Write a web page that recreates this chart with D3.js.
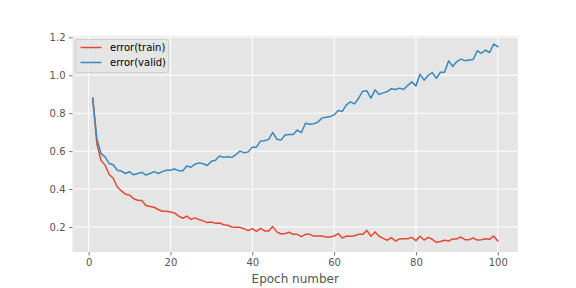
<!DOCTYPE html>
<html>
<head>
<meta charset="utf-8">
<script src="https://cdn.jsdelivr.net/npm/d3@7"></script>
<style>
  html, body { margin: 0; padding: 0; background: #ffffff; }
  svg { display: block; font-family: "DejaVu Sans", sans-serif; }
</style>
</head>
<body>
<svg id="chart" width="576" height="288"></svg>
<script>
const epochs = d3.range(1, 101);
const trainError = [
  0.878, 0.640, 0.552, 0.526, 0.478, 0.457, 0.411, 0.390, 0.373, 0.368,
  0.349, 0.341, 0.340, 0.313, 0.308, 0.304, 0.292, 0.283, 0.283, 0.279,
  0.274, 0.257, 0.246, 0.257, 0.240, 0.248, 0.239, 0.232, 0.223, 0.226,
  0.219, 0.221, 0.212, 0.209, 0.200, 0.198, 0.198, 0.191, 0.181, 0.191,
  0.177, 0.193, 0.179, 0.179, 0.202, 0.174, 0.163, 0.165, 0.172, 0.161,
  0.161, 0.149, 0.161, 0.161, 0.152, 0.152, 0.152, 0.147, 0.147, 0.152,
  0.165, 0.142, 0.152, 0.151, 0.154, 0.161, 0.161, 0.182, 0.151, 0.174,
  0.151, 0.140, 0.130, 0.144, 0.126, 0.137, 0.138, 0.138, 0.145, 0.128,
  0.151, 0.131, 0.145, 0.135, 0.119, 0.123, 0.130, 0.126, 0.137, 0.137,
  0.147, 0.133, 0.133, 0.142, 0.131, 0.133, 0.138, 0.135, 0.152, 0.126
];
const validError = [
  0.878, 0.667, 0.588, 0.570, 0.535, 0.528, 0.499, 0.495, 0.482, 0.491,
  0.475, 0.482, 0.488, 0.474, 0.482, 0.492, 0.482, 0.492, 0.499, 0.499,
  0.506, 0.497, 0.497, 0.522, 0.515, 0.531, 0.538, 0.533, 0.524, 0.547,
  0.552, 0.574, 0.567, 0.570, 0.567, 0.582, 0.600, 0.591, 0.596, 0.621,
  0.621, 0.653, 0.655, 0.662, 0.699, 0.663, 0.658, 0.685, 0.688, 0.688,
  0.711, 0.698, 0.747, 0.742, 0.744, 0.752, 0.774, 0.779, 0.782, 0.791,
  0.814, 0.809, 0.844, 0.860, 0.849, 0.879, 0.916, 0.918, 0.879, 0.923,
  0.899, 0.907, 0.914, 0.929, 0.925, 0.932, 0.925, 0.947, 0.965, 0.944,
  1.005, 0.974, 1.000, 1.014, 0.984, 1.016, 1.016, 1.076, 1.046, 1.072,
  1.085, 1.077, 1.081, 1.083, 1.129, 1.116, 1.132, 1.120, 1.164, 1.151
];
const seriesNames = ["error(train)", "error(valid)"];
const seriesColors = ["#E24A33", "#348ABD"];
const xTicks = [0, 20, 40, 60, 80, 100];
const yTicks = [0.2, 0.4, 0.6, 0.8, 1.0, 1.2];
const xLabel = "Epoch number";

const plot = { left: 72.5, right: 518, top: 36, bottom: 252 };
const svg = d3.select("#chart");

const x = d3.scaleLinear().domain([-3.95, 104.95]).range([plot.left, plot.right]);
const y = d3.scaleLinear().domain([0.068, 1.207]).range([plot.bottom, plot.top]);

// background
svg.append("rect")
  .attr("x", plot.left).attr("y", plot.top)
  .attr("width", plot.right - plot.left).attr("height", plot.bottom - plot.top)
  .attr("fill", "#E5E5E5");

// grid
const grid = svg.append("g");
grid.selectAll(".gx").data(xTicks).enter().append("line")
  .attr("x1", d => x(d)).attr("x2", d => x(d))
  .attr("y1", plot.top).attr("y2", plot.bottom)
  .attr("stroke", "#ffffff").attr("stroke-width", 1);
grid.selectAll(".gy").data(yTicks).enter().append("line")
  .attr("x1", plot.left).attr("x2", plot.right)
  .attr("y1", d => y(d)).attr("y2", d => y(d))
  .attr("stroke", "#ffffff").attr("stroke-width", 1);

// axes
const xAxis = svg.append("g")
  .attr("transform", `translate(0,${plot.bottom})`)
  .call(d3.axisBottom(x).tickValues(xTicks).tickSize(3.5).tickPadding(3.5).tickFormat(d3.format("d")));
const yAxis = svg.append("g")
  .attr("transform", `translate(${plot.left},0)`)
  .call(d3.axisLeft(y).tickValues(yTicks).tickSize(3.5).tickPadding(3.5).tickFormat(d3.format(".1f")));
[xAxis, yAxis].forEach(a => {
  a.select(".domain").remove();
  a.selectAll(".tick line").attr("stroke", "#555555").attr("stroke-width", 0.8);
  a.selectAll(".tick text").attr("fill", "#555555")
    .style("font-size", "10px").style("font-family", "DejaVu Sans, sans-serif");
});

svg.append("text")
  .attr("x", (plot.left + plot.right) / 2).attr("y", 283)
  .attr("text-anchor", "middle")
  .attr("fill", "#555555")
  .style("font-size", "12px")
  .text(xLabel);

// lines
const clip = svg.append("clipPath").attr("id", "clip").append("rect")
  .attr("x", plot.left).attr("y", plot.top)
  .attr("width", plot.right - plot.left).attr("height", plot.bottom - plot.top);
const line = d3.line().x((d, i) => x(epochs[i])).y(d => y(d));
[trainError, validError].forEach((s, k) => {
  svg.append("path")
    .datum(s)
    .attr("d", line)
    .attr("fill", "none")
    .attr("stroke", seriesColors[k])
    .attr("stroke-width", 1.5)
    .attr("stroke-linejoin", "round")
    .attr("stroke-linecap", "square")
    .attr("clip-path", "url(#clip)");
});

// legend
const lg = svg.append("g");
lg.append("rect")
  .attr("x", 75.5).attr("y", 39.5).attr("width", 93).attr("height", 33)
  .attr("rx", 2.5).attr("ry", 2.5)
  .attr("fill", "#E5E5E5").attr("fill-opacity", 0.8)
  .attr("stroke", "#cccccc").attr("stroke-width", 0.8);
seriesNames.forEach((name, k) => {
  const cy = 47.5 + k * 15;
  lg.append("line")
    .attr("x1", 80.5).attr("x2", 101.5).attr("y1", cy).attr("y2", cy)
    .attr("stroke", seriesColors[k]).attr("stroke-width", 1.5);
  lg.append("text")
    .attr("x", 110).attr("y", cy).attr("dy", "0.35em")
    .attr("fill", "#000000")
    .style("font-size", "10px")
    .text(name);
});
</script>
</body>
</html>
